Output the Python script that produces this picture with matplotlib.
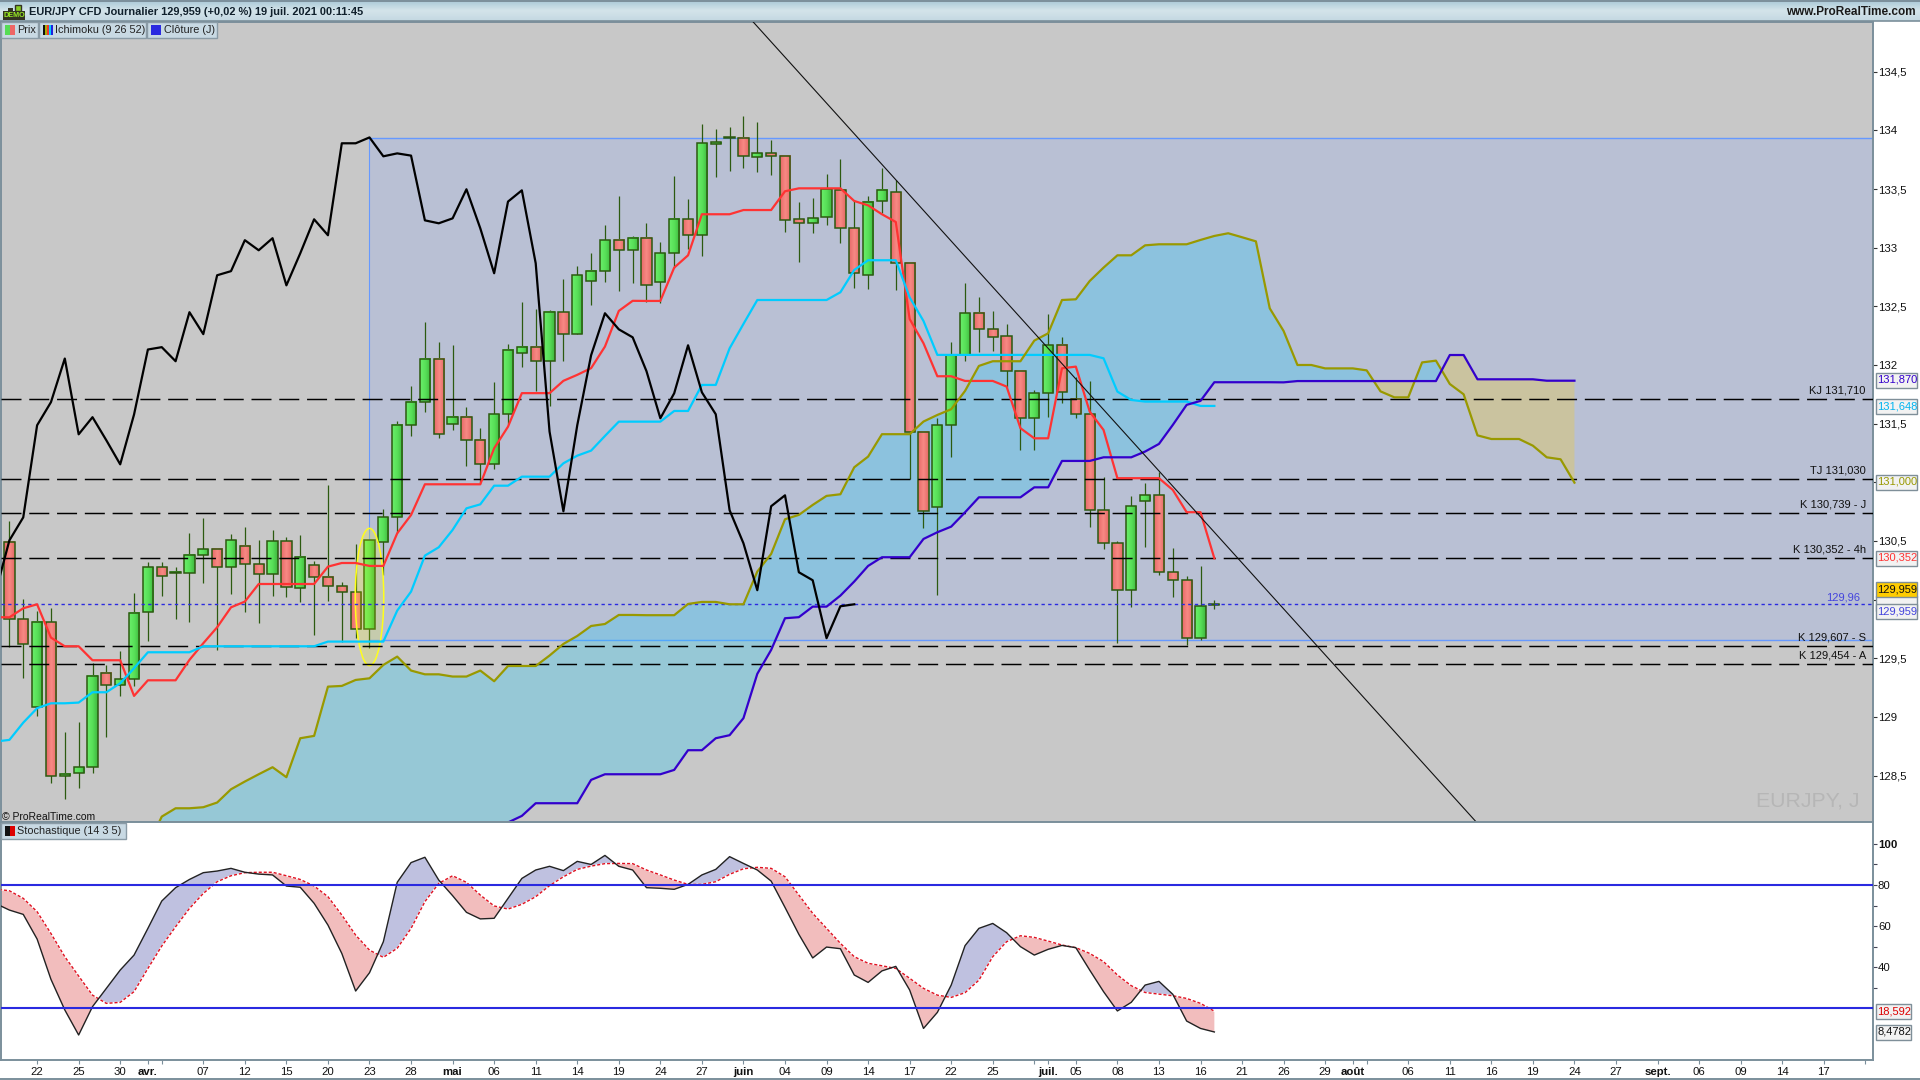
import numpy as np
import matplotlib
matplotlib.use("Agg")
import matplotlib.pyplot as plt
from matplotlib.patches import Rectangle, Ellipse
from matplotlib.colors import LinearSegmentedColormap

plt.rcParams['font.family'] = ['Liberation Sans', 'DejaVu Sans']
plt.rcParams['lines.scale_dashes'] = False

# ---------------- data ----------------
opens = [130.494,129.832,129.082,129.807,128.494,128.52,128.57,129.378,129.27,129.32,129.892,130.275,130.224,130.224,130.378,130.429,130.275,130.454,130.3,130.216,130.497,130.096,130.292,130.19,130.113,130.062,129.747,130.488,130.701,131.486,
131.683,132.055,131.494,131.555,131.358,131.153,131.581,132.1,132.152,132.032,132.45,132.263,132.714,132.8,133.064,132.978,133.08,132.705,132.952,133.242,133.106,133.887,133.935,133.938,133.776,133.804,133.779,133.242,133.208,133.259,
133.489,133.165,132.765,133.395,133.472,132.873,131.427,130.793,131.486,132.083,132.441,132.304,132.245,131.947,131.546,131.759,132.168,131.708,131.58,130.761,130.48,130.08,130.844,130.889,130.233,130.165,129.671,129.958]
highs = [130.67,130.005,129.9,129.926,128.869,128.954,129.463,129.443,129.562,130.054,130.324,130.324,130.275,130.565,130.693,130.429,130.557,130.616,130.508,130.594,130.531,130.548,130.329,130.977,130.147,130.474,130.505,130.77,131.52,131.82,
132.365,132.194,132.17,131.643,131.46,131.853,132.177,132.535,132.478,132.47,132.734,132.845,132.953,133.194,133.442,133.1,133.208,133.046,133.611,133.415,134.054,134.012,134.026,134.123,134.069,133.918,133.79,133.39,133.424,133.628,
133.756,133.407,133.441,133.682,133.577,132.873,131.438,131.546,132.194,132.7,132.58,132.461,132.347,131.947,131.788,132.435,132.239,131.9,131.864,131.043,130.5,130.884,130.992,131.091,130.438,130.202,130.287,129.997]
lows = [129.6,129.33,129.01,128.44,128.298,128.39,128.525,128.83,129.18,129.26,129.65,130.034,129.835,129.812,130.145,129.571,130.048,129.898,129.804,130.034,130.025,129.983,129.699,129.988,129.642,129.67,129.59,130.21,130.565,131.395,
131.595,131.375,131.446,131.142,130.99,131.113,131.5,131.979,131.782,131.652,132.035,132.263,132.513,132.709,132.632,132.697,132.535,132.526,132.824,132.989,132.932,133.606,133.657,133.682,133.648,133.62,133.137,132.881,133.128,133.194,
133.043,132.66,132.651,133.293,132.64,131.026,130.614,130.04,131.219,132.035,132.111,132.123,131.816,131.276,131.276,131.56,131.679,131.552,130.622,130.429,129.628,129.94,130.452,130.21,130.026,129.614,129.656,129.92]
closes = [129.832,129.619,129.807,128.497,128.517,128.57,129.352,129.27,129.32,129.889,130.275,130.2,130.233,130.378,130.429,130.275,130.505,130.3,130.216,130.497,130.105,130.361,130.19,130.113,130.062,129.747,130.505,130.701,131.486,131.683,
132.055,131.409,131.555,131.358,131.153,131.578,132.132,132.152,132.032,132.45,132.263,132.765,132.8,133.064,132.978,133.081,132.679,132.952,133.242,133.106,133.89,133.898,133.941,133.779,133.804,133.785,133.233,133.208,133.25,133.498,
133.165,132.782,133.393,133.489,132.867,131.432,130.753,131.486,132.083,132.441,132.304,132.236,131.947,131.546,131.759,132.168,131.767,131.58,130.762,130.48,130.08,130.796,130.889,130.233,130.165,129.671,129.943,129.96]

tenkan = [129.85,129.849,129.926,129.96,129.676,129.602,129.602,129.483,129.483,129.483,129.179,129.312,129.312,129.312,129.486,129.628,129.764,129.934,129.983,130.133,130.133,130.133,130.133,130.133,130.281,130.312,130.312,130.287,130.287,130.565,130.721,
130.983,130.983,130.983,130.983,130.983,131.29,131.474,131.76,131.76,131.76,131.865,131.916,131.973,132.157,132.461,132.547,132.546,132.546,132.83,132.935,133.285,133.285,133.285,133.321,133.321,133.321,133.481,133.506,133.506,133.506,133.506,
133.398,133.361,133.285,133.219,132.392,132.185,131.904,131.904,131.864,131.864,131.864,131.816,131.461,131.375,131.375,131.972,131.986,131.603,131.446,131.035,131.035,131.035,131.035,130.935,130.745,130.745,130.352]
kijun = [128.79,128.804,128.951,129.074,129.116,129.116,129.122,129.21,129.21,129.287,129.415,129.551,129.551,129.551,129.551,129.602,129.602,129.602,129.602,129.602,129.602,129.602,129.602,129.602,129.642,129.642,129.642,129.642,129.642,129.906,130.068,
130.375,130.446,130.594,130.778,130.812,130.971,130.971,131.048,131.048,131.048,131.162,131.227,131.27,131.395,131.517,131.517,131.517,131.517,131.608,131.608,131.83,131.83,132.142,132.35,132.554,132.554,132.554,132.554,132.554,132.554,132.62,
132.81,132.893,132.893,132.893,132.577,132.375,132.086,132.086,132.086,132.086,132.086,132.086,132.086,132.086,132.086,132.086,132.086,132.086,132.057,131.773,131.702,131.688,131.688,131.688,131.688,131.651,131.651]
chikou = [130.062,130.505,130.701,131.486,131.683,132.055,131.409,131.555,131.358,131.153,131.578,132.132,132.152,132.032,132.45,132.263,132.765,132.8,133.064,132.978,133.081,132.679,132.952,133.242,133.106,133.89,133.89,133.94,133.779,133.804,133.785,
133.233,133.208,133.25,133.498,133.165,132.782,133.393,133.489,132.867,131.432,130.753,131.486,132.083,132.441,132.304,132.236,131.947,131.546,131.759,132.168,131.767,131.58,130.762,130.48,130.08,130.796,130.889,130.233,130.165,129.671,129.943,129.96]
# senkou A: bars 10..113
ssa = [127.9,128.15,128.221,128.221,128.23,128.27,128.383,128.449,128.511,128.571,128.486,128.818,128.838,129.258,129.264,129.315,129.329,129.443,129.514,129.395,129.363,129.363,129.344,129.344,129.395,129.304,129.434,129.434,129.434,129.523,129.622,129.69,129.775,129.792,129.869,129.869,
129.867,129.867,129.867,129.963,129.98,129.98,129.96,129.96,130.239,130.389,130.685,130.722,130.807,130.884,130.898,131.128,131.219,131.41,131.41,131.41,131.518,131.574,131.623,131.779,131.992,132.032,132.032,132.032,132.208,132.27,132.554,132.56,132.716,132.83,132.935,132.935,133.02,133.029,133.029,133.029,133.066,133.1,133.123,133.089,133.054,132.483,
132.29,132.0,132.0,131.971,131.971,131.971,131.954,131.775,131.724,131.724,132.022,132.037,131.838,131.75,131.4,131.369,131.369,131.369,131.312,131.213,131.196,130.997]
# senkou B: bars 36..113
ssb = [128.1,128.156,128.264,128.264,128.264,128.264,128.463,128.511,128.511,128.511,128.511,128.511,128.548,128.716,128.716,128.818,128.844,128.989,129.367,129.571,129.841,129.85,129.94,129.94,130.034,130.154,130.287,130.361,130.361,130.361,130.517,130.574,130.622,130.744,130.872,130.872,130.872,130.872,130.957,130.957,
131.182,131.182,131.182,131.213,131.213,131.213,131.262,131.327,131.489,131.66,131.694,131.853,131.853,131.853,131.853,131.853,131.852,131.863,131.863,131.863,131.863,131.863,131.863,131.863,131.863,131.863,131.863,131.863,132.085,132.085,131.878,131.878,131.878,131.878,131.878,131.866,131.866,131.866]

stoch_k = [71.0,67.8,65.7,53.7,34.1,19.2,7.0,20.8,29.7,38.6,45.9,58.9,72.2,78.7,82.7,86.0,86.8,88.1,86.2,85.3,84.9,79.5,78.9,71.1,60.5,46.7,28.4,37.3,52.4,81.3,90.9,93.5,82.4,74.8,66.7,63.5,63.8,73.5,83.2,87.3,89.1,87.0,91.5,90.0,94.4,89.1,87.3,
78.7,78.4,77.9,80.3,84.9,87.6,93.8,90.5,87.3,81.9,69.1,56.0,44.5,49.8,49.0,36.2,32.6,38.2,40.4,28.9,10.2,18.0,31.3,50.5,58.9,61.3,56.8,50.0,45.9,48.7,50.6,49.5,38.6,28.1,18.7,22.9,31.3,33.1,26.8,13.8,10.2,8.48]
stoch_d = [78.0,77.2,73.5,67.0,56.4,45.1,35.7,26.4,22.4,22.9,28.1,39.4,50.3,59.7,68.6,75.9,81.6,84.5,86.0,86.2,86.2,84.5,82.7,79.5,74.3,65.4,55.6,48.3,44.8,49.2,58.9,71.9,80.8,84.5,81.3,75.1,69.8,68.3,70.6,74.3,79.7,84.0,87.6,89.2,90.4,90.5,90.4,
87.3,84.9,82.4,80.3,80.3,81.6,85.2,87.9,88.6,88.1,84.0,75.1,66.2,58.9,51.6,45.1,41.9,40.7,39.4,34.6,29.7,26.4,25.3,27.6,33.7,45.1,52.4,55.3,54.5,52.7,50.8,49.5,46.7,42.7,36.2,31.0,27.7,26.9,26.1,24.8,22.4,18.59]

levels = [131.710,131.030,130.739,130.352,129.607,129.454]
level_labels = ["KJ 131,710","TJ 131,030","K 130,739 - J","K 130,352 - 4h","K 129,607 - S","K 129,454 - A"]
last_price = 129.96
zone_top, zone_bottom, zone_start = 133.933, 129.656, 26
trend_x, trend_y = [53.66,105.94], [134.93,128.1]
price_ticks = [128.5,129,129.5,130,130.5,131,131.5,132,132.5,133,133.5,134,134.5]
price_tick_labels = ["128,5","129","129,5","","130,5","","131,5","132","132,5","133","133,5","134","134,5"]
date_pos = [2,5,8,10,14,17,20,23,26,29,32,35,38,41,44,47,50,53,56,59,62,65,68,71,75,77,80,83,86,89,92,95,97,101,104,107,110,113,116,119,122,125,128,131]
date_lab = ["22","25","30","avr.","07","12","15","20","23","28","mai","06","11","14","19","24","27","juin","04","09","14","17","22","25","juil.","05","08","13","16","21","26","29","août","06","11","16","19","24","27","sept.","06","09","14","17"]
extra_ticks = [11,74,98,134]
month_names = {"avr.","mai","juin","juil.","août","sept."}

# ---------------- layout ----------------
W, H = 1920, 1080
fig = plt.figure(figsize=(W/100, H/100), dpi=100, facecolor='white')
def ax_px(x0, y0, x1, y1, **kw):
    return fig.add_axes([x0/W, 1-y1/H, (x1-x0)/W, (y1-y0)/H], **kw)
def fx(x): return x/W
def fy(y): return 1-y/H
def box(x0, y0, x1, y1, fc, ec='#8a9ba6', lw=1, z=5):
    fig.add_artist(Rectangle((fx(x0), fy(y1)), (x1-x0)/W, (y1-y0)/H, transform=fig.transFigure,
                             fc=fc, ec=ec, lw=lw, zorder=z))
AXC = '#7b8f9b'
BG = '#c8c8c8'
xl = (1-9.4)/13.85
xr = (1873-9.4)/13.85

# title bar
tb = ax_px(0, 0, W, 21)
tb.imshow(np.linspace(0, 1, 32).reshape(-1, 1), aspect='auto', cmap=LinearSegmentedColormap.from_list('t', ['#a8c8d6', '#d4e4ea', '#c4d8e2']))
tb.axis('off')
fig.text(fx(29), fy(12), "EUR/JPY CFD Journalier 129,959 (+0,02 %) 19 juil. 2021 00:11:45", fontsize=7.9, fontweight='bold', color='#10202c', va='center', ha='left', zorder=6)
fig.text(fx(1916), fy(12), "www.ProRealTime.com", fontsize=8.5, fontweight='bold', color='#1a1a1a', va='center', ha='right', zorder=6)
# demo icon
box(3, 11, 25, 20, '#333322', ec='none', z=6)
box(15, 5, 21, 11, '#88cc22', ec='#333322', z=6)
box(8, 8, 13, 11, '#333322', ec='none', z=6)
fig.text(fx(14), fy(15.7), "DEMO", fontsize=5.2, color='#99ee22', fontweight='bold', va='center', ha='center', zorder=7)

# main price pane
ax = ax_px(1, 22, 1873, 822, facecolor=BG)
ax.set_xlim(xl, xr)
ax.set_ylim(128.104, 134.924)
bars = np.arange(len(closes))
o, h, l, c = map(np.array, (opens, highs, lows, closes))

ax.add_patch(Rectangle((zone_start, zone_bottom), xr-zone_start, zone_top-zone_bottom, fc='#b9c0d4', ec='none', zorder=1))
ax.plot([zone_start, xr], [zone_top, zone_top], color='#6699ff', lw=1, zorder=2)
ax.plot([zone_start, xr], [zone_bottom, zone_bottom], color='#6699ff', lw=1, zorder=2)
ax.plot([zone_start, zone_start], [zone_bottom, zone_top], color='#6699ff', lw=0.8, zorder=2)

xa = np.arange(10, 114)
a = np.array(ssa)
b = np.concatenate([np.full(26, 127.9), ssb])
ax.fill_between(xa, a, b, where=a >= b, interpolate=True, color=(37/255, 200/255, 247/255), alpha=.3, lw=0, zorder=2)
ax.fill_between(xa, a, b, where=a <= b, interpolate=True, color=(242/255, 205/255, 39/255), alpha=.3, lw=0, zorder=2)

WICK = '#2c5a10'
up = c >= o
ax.vlines(bars, l, h, color=WICK, lw=0.9, zorder=3)
green_cm = LinearSegmentedColormap.from_list('g', ['#6aee6a', '#58e058', '#40b840'])
red_cm = LinearSegmentedColormap.from_list('r', ['#e86a6a', '#f88a84', '#e46a66'])
grad = np.linspace(0, 1, 16).reshape(1, -1)
for i in bars:
    ax.imshow(grad, cmap=green_cm if up[i] else red_cm, aspect='auto', interpolation='bilinear',
              extent=(i-.37, i+.37, min(o[i], c[i]), max(o[i], c[i])), zorder=3.5)
ax.bar(bars, np.abs(c-o), bottom=np.minimum(o, c), width=.74, fill=False, edgecolor=WICK, lw=1.1, zorder=4)
ax.set_xlim(xl, xr)
ax.set_ylim(128.104, 134.924)

ax.add_patch(Ellipse((26, 130.022), 2.06, 1.17, fc=(1, 1, 0, .18), ec=(1, 1, 0.1, 1), lw=1.1, zorder=5))

for v in levels:
    ax.plot([xl, xr], [v, v], color='black', lw=1.05, dashes=(14.4, 5.6), zorder=5)
ax.plot([xl, xr], [last_price]*2, color='#2a2ae0', lw=1, dashes=(2.4, 2.4), zorder=5)

LW = 1.6
ax.plot(np.arange(-1, 88), tenkan, color='#ff3333', lw=LW, zorder=6)
ax.plot(np.arange(-1, 88), kijun, color='#00ccff', lw=LW, zorder=6)
ax.plot(xa, ssa, color='#999900', lw=LW, zorder=6)
ax.plot(np.arange(36, 114), ssb, color='#3300cc', lw=LW, zorder=6)
ax.plot(np.arange(-1, 62), chikou, color='black', lw=LW, zorder=6)
ax.plot(trend_x, trend_y, color='#111111', lw=0.8, zorder=7)

for v, t in zip(levels, level_labels):
    ax.annotate(t, (xr, v), xytext=(-5.2, 6.0), textcoords='offset points', ha='right', va='center', fontsize=8, color='#111111', zorder=8)
ax.annotate("129,96", (xr, last_price), xytext=(-9.5, 5.2), textcoords='offset points', ha='right', va='center', fontsize=8, color='#4444dd', zorder=8)
ax.text(1860/13.85-9.4/13.85, 128.285, "EURJPY, J", fontsize=15.3, color='#b6b6b6', ha='right', va='center', zorder=2)
ax.text(xl+.1, 128.148, "© ProRealTime.com", fontsize=7.5, color='#111111', ha='left', va='center', zorder=8)

ax.yaxis.tick_right()
ax.set_yticks(price_ticks)
ax.set_yticklabels(price_tick_labels, fontsize=8.2, color='#111111')
ax.tick_params(axis='y', length=3, width=0.8, color='#333333', pad=0.6)
ax.set_xticks([])
for s in ('left', 'right', 'top', 'bottom'):
    ax.spines[s].set_color(AXC)
    ax.spines[s].set_linewidth(1.4)

# stochastic pane
ax2 = ax_px(1, 822, 1873, 1060, facecolor='white')
ax2.set_xlim(xl, xr)
ax2.set_ylim(-5.16, 110.66)
xs = np.arange(-1, 88)
k = np.array(stoch_k)
d = np.array(stoch_d)
ax2.fill_between(xs, k, d, where=k >= d, interpolate=True, color='#bfc1e0', lw=0, zorder=2)
ax2.fill_between(xs, k, d, where=k <= d, interpolate=True, color='#f2bdbd', lw=0, zorder=2)
ax2.plot(xs, d, color='white', lw=1, zorder=3)
ax2.plot(xs, d, color='#e01020', lw=1, dashes=(2.2, 1.4), zorder=4)
ax2.plot(xs, k, color='#222222', lw=1, zorder=5)
ax2.axhline(80, color='#2a2ae0', lw=1.5, zorder=6)
ax2.axhline(20, color='#2a2ae0', lw=1.5, zorder=6)
ax2.yaxis.tick_right()
ax2.set_yticks([100, 80, 60, 40])
ax2.set_yticklabels(["100", "80", "60", "40"], fontsize=8.2, color='#111111')
ax2.get_yticklabels()[0].set_fontweight('bold')
ax2.set_yticks([90, 70, 50, 30], minor=True)
ax2.tick_params(axis='y', which='both', length=3, width=0.8, color='#445', pad=0.6)
ax2.set_xticks(date_pos + extra_ticks)
ax2.set_xticklabels(date_lab + [""]*len(extra_ticks), fontsize=8.2, color='#111111')
for lab in ax2.get_xticklabels():
    if lab.get_text() in month_names:
        lab.set_fontweight('bold')
ax2.tick_params(axis='x', length=3, width=0.8, color=AXC, pad=1.8)
for s in ('left', 'right', 'top', 'bottom'):
    ax2.spines[s].set_color(AXC)
    ax2.spines[s].set_linewidth(1.4)

# legend boxes
LEG = '#c8d9e3'
for x0, x1 in [(1, 38), (39, 146), (147, 217)]:
    box(x0, 22, x1, 38, LEG)
box(5, 25, 10, 35, '#55dd55', ec='none', z=6)
box(10, 25, 15, 35, '#ee6666', ec='none', z=6)
fig.text(fx(17), fy(30), "Prix", fontsize=7.8, color='#222222', va='center', zorder=6)
for i, col in enumerate(['#111111', '#aaaa00', '#ee3333', '#00ccff', '#2222dd']):
    box(43+2*i, 25, 45+2*i, 35, col, ec='none', z=6)
fig.text(fx(55), fy(30), "Ichimoku (9 26 52)", fontsize=7.8, color='#222222', va='center', zorder=6)
box(151, 25, 161, 35, '#2a2ae0', ec='none', z=6)
fig.text(fx(164), fy(30), "Clôture (J)", fontsize=7.8, color='#222222', va='center', zorder=6)
box(1, 823, 126, 839, LEG)
box(5, 826, 10, 836, '#111111', ec='none', z=6)
box(10, 826, 15, 836, '#dd0000', ec='none', z=6)
fig.text(fx(17), fy(831), "Stochastique (14 3 5)", fontsize=7.8, color='#222222', va='center', zorder=6)

# value boxes on the right axis
def vbox(y, txt, col, fc='#f2f2f2', x1=1916.5):
    box(1875.5, y-7.5, x1, y+7.5, fc, ec='#7f8f99', lw=1, z=6)
    if txt:
        fig.text(fx(1877), fy(y), txt, fontsize=8, color=col, va='center', ha='left', zorder=7)
vbox(380, "131,870", '#3300cc')
vbox(406, "131,648", '#00b4f0')
vbox(482, "131,000", '#999900')
vbox(558, "130,352", '#ff3333')
vbox(603, "", '#555555')
vbox(611, "129,959", '#4444dd')
vbox(589, "129,959", '#111111', fc='#ffcc00')
vbox(1011, "18,592", '#dd0000', x1=1911)
vbox(1032, "8,4782", '#111111', x1=1911)

# bottom line
fig.add_artist(plt.Line2D([0, 1], [fy(1079)]*2, transform=fig.transFigure, color=AXC, lw=1.4))
fig.add_artist(plt.Line2D([0, 1], [fy(0.5)]*2, transform=fig.transFigure, color=AXC, lw=1.4))
fig.add_artist(plt.Line2D([0, 1], [fy(21)]*2, transform=fig.transFigure, color=AXC, lw=1.2))

fig.savefig("out.png", dpi=100, facecolor='white')
